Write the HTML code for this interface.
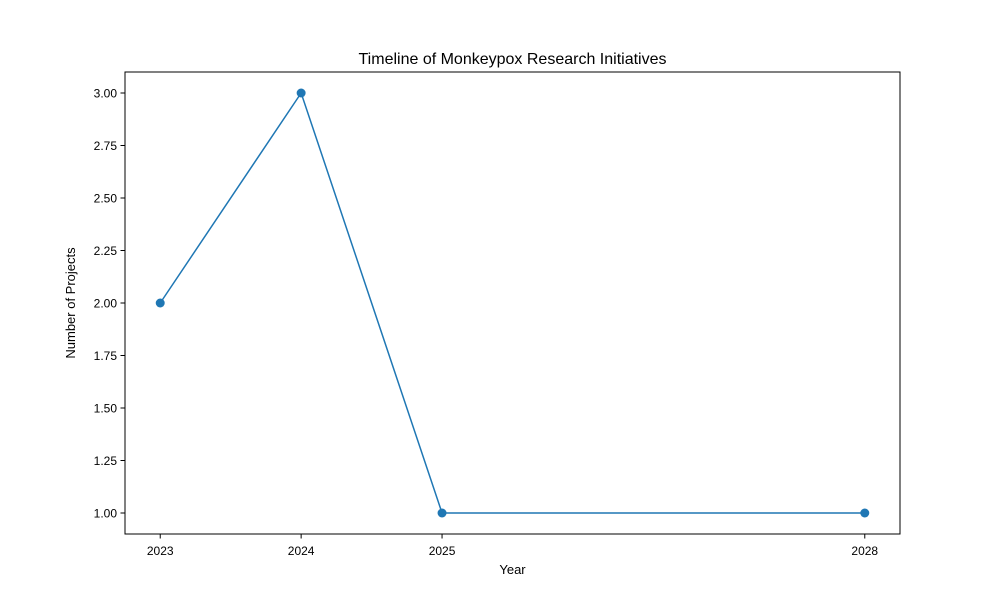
<!DOCTYPE html>
<html><head><meta charset="utf-8"><style>
body{margin:0;background:#fff;}
svg text{font-family:"Liberation Sans","DejaVu Sans",sans-serif;}
</style></head><body>
<svg id="chart" width="1000" height="600" xmlns="http://www.w3.org/2000/svg">
<rect width="1000" height="600" fill="#fff"/>
<text x="512.5" y="64" text-anchor="middle" font-size="16">Timeline of Monkeypox Research Initiatives</text>
<text x="512.5" y="574" text-anchor="middle" font-size="13">Year</text>
<text transform="translate(75,303) rotate(-90)" text-anchor="middle" font-size="13">Number of Projects</text>
<g id="ticks"></g>
<g id="marks"></g>
<rect x="125" y="72" width="775" height="462" fill="none" stroke="#000" stroke-width="1"/>
</svg>
<script>
const years = [2023, 2024, 2025, 2028];
const projects = [2, 3, 1, 1];
const xTicks = [2023, 2024, 2025, 2028];
const yTicks = [1.00, 1.25, 1.50, 1.75, 2.00, 2.25, 2.50, 2.75, 3.00];

const X0=125, X1=900, Y0=534, Y1=72;
const xmin=2022.75, xmax=2028.25, ymin=0.9, ymax=3.1;
const sx=v=>X0+(v-xmin)/(xmax-xmin)*(X1-X0);
const sy=v=>Y0-(v-ymin)/(ymax-ymin)*(Y0-Y1);
const NS="http://www.w3.org/2000/svg";
function mk(tag, attrs, parent){const e=document.createElementNS(NS,tag);for(const k in attrs)e.setAttribute(k,attrs[k]);parent.appendChild(e);return e;}
const tg=document.getElementById('ticks'), mg=document.getElementById('marks');
xTicks.forEach(t=>{
  const x=sx(t);
  const l=mk('line',{x1:x,x2:x,y1:Y0,y2:Y0+4.5,stroke:'#000'},tg);
  
  
  const tx=mk('text',{x:x,y:Y0+21,'text-anchor':'middle','font-size':'12'},tg);
  tx.textContent=t;
  
  
});
yTicks.forEach(t=>{
  const y=sy(t);
  const l=mk('line',{x1:X0-4.5,x2:X0,y1:y,y2:y,stroke:'#000'},tg);
  
  
  const tx=mk('text',{x:X0-8,y:y+4.5,'text-anchor':'end','font-size':'12'},tg);
  tx.textContent=t.toFixed(2);
  
  
});
const pts=years.map((y,i)=>sx(y)+','+sy(projects[i])).join(' ');
const pl=mk('polyline',{points:pts,fill:'none',stroke:'#1f77b4','stroke-width':'1.5'},mg);


years.forEach((y,i)=>{
  const c=mk('circle',{cx:sx(y),cy:sy(projects[i]),r:4.5,fill:'#1f77b4'},mg);
  
  
});
</script>
</body></html>
